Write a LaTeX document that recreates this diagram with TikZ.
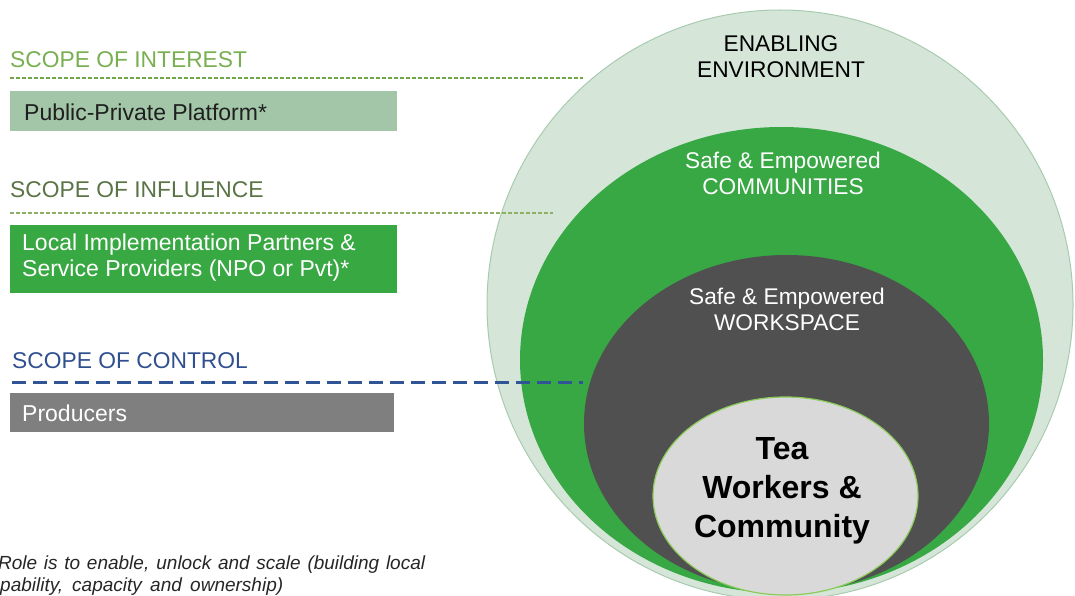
\documentclass[tikz,border=0pt]{standalone}
\usepackage{fontspec}
\setmainfont{Liberation Sans}
\definecolor{envfill}{HTML}{D5E6D9}
\definecolor{envline}{HTML}{A8CBB0}
\definecolor{commgreen}{HTML}{37A843}
\definecolor{workgray}{HTML}{505050}
\definecolor{teafill}{HTML}{D9D9D9}
\definecolor{tealine}{HTML}{8CCB5A}
\definecolor{boxone}{HTML}{A2C6A7}
\definecolor{boxtwo}{HTML}{38A843}
\definecolor{boxthree}{HTML}{7F7F7F}
\definecolor{interestc}{HTML}{78AF50}
\definecolor{influencec}{HTML}{5B7446}
\definecolor{controlc}{HTML}{2F4F8F}
\definecolor{interestline}{HTML}{6FA845}
\definecolor{influenceline}{HTML}{8DB064}
\definecolor{controlline}{HTML}{2F5597}
\tikzset{
  scopelabel/.style={anchor=west, inner sep=0pt, font=\fontsize{22.8}{26}\selectfont},
  scopebox/.style={anchor=north west, inner sep=0pt, minimum height=#1},
  boxtext/.style={anchor=west, inner sep=0pt, align=left, font=\fontsize{23}{26}\selectfont},
  ringtext/.style={align=center, inner sep=0pt, font=\fontsize{22.7}{26}\selectfont},
  notetext/.style={anchor=west, inner sep=0pt, font=\fontsize{19}{22}\itshape\selectfont, text=black!85},
}
\begin{document}
\begin{tikzpicture}[x=1pt,y=-1pt]
\useasboundingbox (0,0) rectangle (1075,596);
\clip (0,0) rectangle (1075,596);
% rings
\path[fill=envfill, draw=envline, line width=1pt] (780,305) ellipse [x radius=293, y radius=295];
\path[fill=commgreen] (781.5,360) ellipse [x radius=261.5, y radius=233];
\path[fill=workgray] (786.5,423.5) ellipse [x radius=202.5, y radius=168.5];
\path[fill=teafill, draw=tealine, line width=1.2pt] (785.5,496) ellipse [x radius=132.5, y radius=99];
% ring labels
\node[ringtext, text=black] (env) at (781,57) {ENABLING\\ENVIRONMENT};
\node[ringtext, text=white] (comm) at (783,173) {Safe \& Empowered\\COMMUNITIES};
\node[ringtext, text=white] (work) at (787,309) {Safe \& Empowered\\WORKSPACE};
\node[align=center, inner sep=0pt, font=\fontsize{32}{39}\bfseries\selectfont] (tea) at (782,491) {Tea\\Workers \&\\Community};
% scope labels and lines
\node[scopelabel, text=interestc] (sint) at (10,60) {SCOPE OF INTEREST};
\draw[interestline, line width=1.3pt, dash pattern=on 4pt off 2pt] (10,78) -- (583,78);
\node[scopebox=40pt, fill=boxone, minimum width=387pt] (b1) at (10,91) {};
\node[boxtext, text=black!88] (t1) at (24,112) {Public-Private Platform*};

\node[scopelabel, text=influencec] (sinf) at (10,190) {SCOPE OF INFLUENCE};
\draw[influenceline, line width=1.3pt, dash pattern=on 4pt off 2pt] (10,213) -- (553,213);
\node[scopebox=68pt, fill=boxtwo, minimum width=387pt] (b2) at (10,225) {};
\node[boxtext, text=white] (t2) at (22,258) {Local Implementation Partners \&\\Service Providers (NPO or Pvt)*};

\node[scopelabel, text=controlc] (scon) at (12,361) {SCOPE OF CONTROL};
\draw[controlline, line width=3pt, dash pattern=on 14pt off 7pt] (12,382) -- (583,382);
\node[scopebox=39pt, fill=boxthree, minimum width=384pt] (b3) at (10,393) {};
\node[boxtext, text=white] (t3) at (22,413) {Producers};
% note
\node[notetext] (n1) at (-2,565) {\makebox[427pt][s]{Role is to enable, unlock and scale (building local}};
\node[notetext] (n2) at (0,587) {\makebox[283pt][s]{pability, capacity and ownership)}};
\end{tikzpicture}
\end{document}
